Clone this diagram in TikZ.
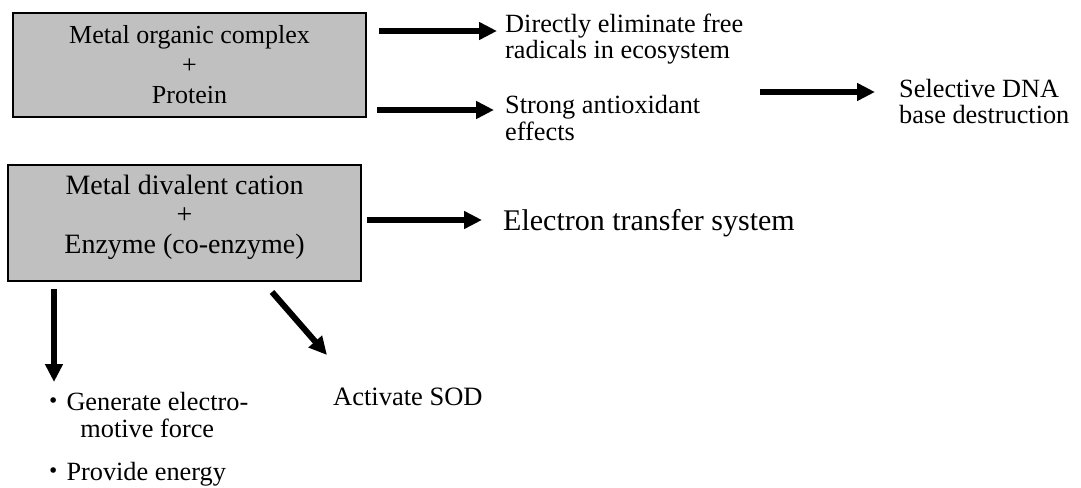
\documentclass[tikz,border=0pt]{standalone}
\usepackage{fontspec}
\setmainfont{Liberation Serif}
\newfontfamily\jpfont{Noto Sans CJK JP}
\usetikzlibrary{arrows.meta}
\definecolor{boxgray}{RGB}{192,192,192}
\begin{document}
\begin{tikzpicture}[x=1pt,y=-1pt,
  box/.style={draw=black, line width=1.5pt, fill=boxgray, align=center, inner sep=0pt},
  arr/.style={line width=6pt, -{Triangle[length=18pt,width=17pt]}},
  lbl/.style={inner sep=0pt, anchor=base west, align=left}]
\useasboundingbox (0,0) rectangle (1081,487);
% boxes
\node[box, minimum width=353pt, minimum height=104pt, font=\fontsize{26}{30}\selectfont] (b1) at (189.5,65)
  {Metal organic complex\\+\\Protein};
\node[box, minimum width=353pt, minimum height=116pt, font=\fontsize{28}{29.5}\selectfont] (b2) at (184.5,223)
  {Metal divalent cation\\+\\Enzyme (co-enzyme)\rule[-18pt]{0pt}{1pt}};
% labels (base = baseline of the last line)
\node[lbl, font=\fontsize{26.3}{26}\selectfont] (t1) at (505,59)
  {Directly eliminate free\\radicals in ecosystem};
\node[lbl, font=\fontsize{26.3}{27}\selectfont] (t2) at (505,140)
  {Strong antioxidant\\effects};
\node[lbl, font=\fontsize{26.3}{25.5}\selectfont] (t3) at (899,123)
  {Selective DNA\\base destruction};
\node[lbl, font=\fontsize{30}{30}\selectfont] (t4) at (503,230)
  {Electron transfer system};
\node[lbl, font=\fontsize{26.5}{27}\selectfont] (t5) at (333,405)
  {Activate SOD};
\node[lbl, font=\fontsize{26.3}{27}\selectfont] (t6) at (40,480)
  {{\jpfont ・}Generate electro-\\\hspace{14pt}{\jpfont\phantom{・}}motive force\\[16pt]{\jpfont ・}Provide energy};
% connector end points
\coordinate (a3s) at (760,92);
\coordinate (dgs) at (272,292);
\coordinate (dge) at (327,355);
% arrows
\draw[arr] ([xshift=12pt]b1.east |- 0,31) -- ([xshift=-8pt]t1.west |- 0,31);
\draw[arr] ([xshift=10pt]b1.east |- 0,110) -- ([xshift=-11pt]t2.west |- 0,110);
\draw[arr] (a3s) -- ([xshift=-24pt]t3.west |- a3s);
\draw[arr] ([xshift=5pt]b2.east |- 0,220) -- ([xshift=-21pt]t4.west |- 0,220);
\draw[arr] ([yshift=-7pt]b2.south -| 54,0) -- (54,382);
\draw[arr] (dgs) -- (dge);
\end{tikzpicture}
\end{document}
